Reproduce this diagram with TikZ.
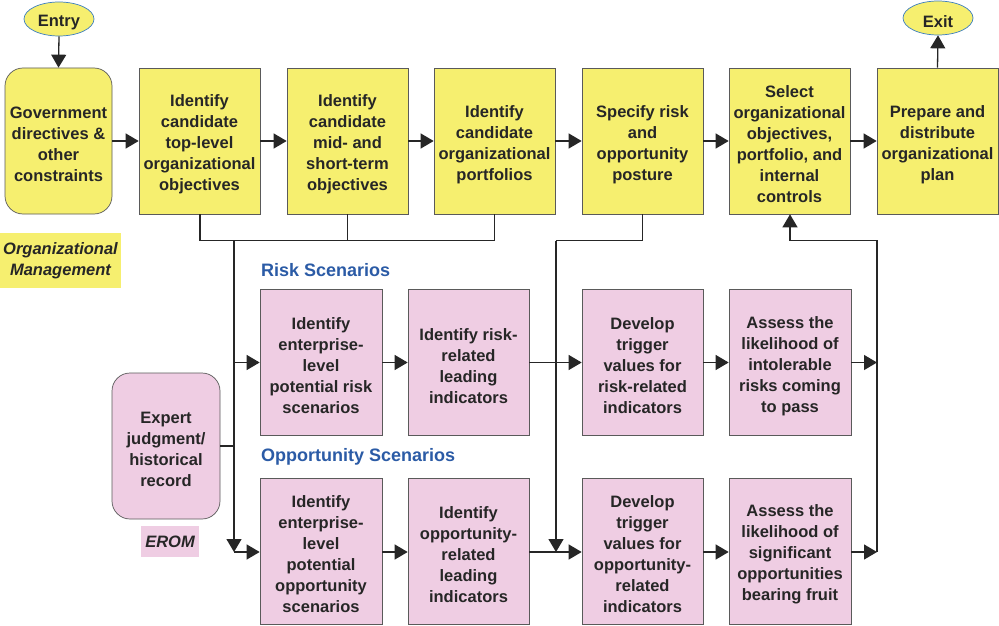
\documentclass[tikz,border=0pt]{standalone}
\usepackage{fontspec}
\setmainfont{Liberation Sans}
\usetikzlibrary{arrows.meta,shapes.geometric}
\definecolor{yel}{HTML}{F6EF6F}
\definecolor{pnk}{HTML}{EFCDE3}
\definecolor{blu}{HTML}{2B5BA6}
\definecolor{ebord}{HTML}{3C7EC0}
\definecolor{bord}{HTML}{5A5A5A}
\newcommand\bx[4]{\node[#1] (#2) at #3 {}; \node[txt] (#2t) at ([yshift=-3.5pt]#2.center) {#4};}
\begin{document}
\begin{tikzpicture}[x=1pt,y=-1pt,
  txt/.style={font=\fontsize{16.5}{21}\selectfont\bfseries, align=center, text=black!85, inner sep=0pt},
  ybox/.style={rectangle, fill=yel, draw=bord, line width=0.7pt, inner sep=0pt, minimum width=121pt, minimum height=146pt},
  pbox/.style={rectangle, fill=pnk, draw=bord, line width=0.7pt, inner sep=0pt, minimum width=121pt, minimum height=146pt},
  term/.style={ellipse, fill=yel, draw=ebord, line width=0.7pt, inner sep=0pt, minimum width=70pt, minimum height=34pt},
  lbl/.style={font=\fontsize{18}{21}\selectfont\bfseries, text=blu, anchor=west, inner sep=0pt},
  tag/.style={font=\fontsize{16.5}{21}\selectfont\bfseries\itshape, align=center, text=black!85, inner sep=0pt},
  ln/.style={line width=1.3pt, draw=black!85},
  arr/.style={ln, -{Triangle[length=13pt,width=15pt]}}
]
\useasboundingbox (0,0) rectangle (999,626);
\fill[white] (0,0) rectangle (999,626);

% top row
\bx{term}{entry}{(59,19)}{Entry}
\bx{term}{exit}{(938,18)}{Exit}
\bx{ybox, rounded corners=18pt, minimum width=107pt}{gov}{(58.5,141)}{Government\\directives \&\\other\\constraints}
\bx{ybox}{b1}{(199.5,141)}{Identify\\candidate\\top-level\\organizational\\objectives}
\bx{ybox}{b2}{(347.5,141)}{Identify\\candidate\\mid- and\\short-term\\objectives}
\bx{ybox}{b3}{(494.5,141)}{Identify\\candidate\\organizational\\portfolios}
\bx{ybox}{b4}{(642.5,141)}{Specify risk\\and\\opportunity\\posture}
\bx{ybox}{b5}{(789.5,141)}{Select\\organizational\\objectives,\\portfolio, and\\internal\\controls}
\bx{ybox}{b6}{(937.5,141)}{Prepare and\\distribute\\organizational\\plan}

% tags
\fill[yel] (0,233) rectangle (121,288);
\node[tag] (orgm) at (60.5,261) {Organizational\\Management};
\fill[pnk] (141,526) rectangle (199,557);
\node[tag] (erom) at (170,542) {EROM};

% labels
\node[lbl] (rs) at (261,270) {Risk Scenarios};
\node[lbl] (os) at (261,457) {Opportunity Scenarios};

% risk row
\bx{pbox, minimum width=122pt}{r1}{(321,362.5)}{Identify\\enterprise-\\level\\potential risk\\scenarios}
\bx{pbox}{r2}{(468.5,362.5)}{Identify risk-\\related\\leading\\indicators}
\bx{pbox}{r3}{(642.5,362.5)}{Develop\\trigger\\values for\\risk-related\\indicators}
\bx{pbox, minimum width=122pt}{r4}{(790,362.5)}{Assess the\\likelihood of\\intolerable\\risks coming\\to pass}

% opportunity row
\bx{pbox, minimum width=122pt}{o1}{(321,551)}{Identify\\enterprise-\\level\\potential\\opportunity\\scenarios}
\bx{pbox}{o2}{(468.5,551)}{Identify\\opportunity-\\related\\leading\\indicators}
\bx{pbox}{o3}{(642.5,551)}{Develop\\trigger\\values for\\opportunity-\\related\\indicators}
\bx{pbox, minimum width=122pt}{o4}{(790,551)}{Assess the\\likelihood of\\significant\\opportunities\\bearing fruit}

% expert
\bx{pbox, rounded corners=18pt, minimum width=108pt}{exp}{(166,446)}{Expert\\judgment/\\historical\\record}

% coordinates
\coordinate (m1) at (200,240.5);
\coordinate (m2) at (347.5,240.5);
\coordinate (m3) at (494.5,240.5);
\coordinate (j) at (234,240.5);
\coordinate (jr) at (234,362.5);
\coordinate (je) at (234,446);
\coordinate (jo) at (234,552);
\coordinate (k1) at (642.5,240.5);
\coordinate (k2) at (556,240.5);
\coordinate (k3) at (556,552);
\coordinate (q1) at (877,362.5);
\coordinate (q2) at (877,552);
\coordinate (q3) at (877,240.5);
\coordinate (q4) at (790,240.5);

% top connectors
\draw[arr] (entry.south) -- (gov.north);
\draw[arr] (gov.east) -- (b1.west);
\draw[arr] (b1.east) -- (b2.west);
\draw[arr] (b2.east) -- (b3.west);
\draw[arr] (b3.east) -- (b4.west);
\draw[arr] (b4.east) -- (b5.west);
\draw[arr] (b5.east) -- (b6.west);
\draw[arr] (b6.north) -- (exit.south);

% merge of top boxes
\draw[ln] (b1.south -| m1) -- (m1) -- (m3) -- (b3.south -| m3);
\draw[ln] (b2.south -| m2) -- (m2);
\draw[arr] (j) -- (jo);
\draw[arr] (jr) -- (r1.west);
\draw[arr] (jo) -- (o1.west |- jo);
\draw[ln] (exp.east) -- (je);

% posture line
\draw[ln] (b4.south -| k1) -- (k1) -- (k2);
\draw[arr] (k2) -- (k3);

% row connectors
\draw[arr] (r1.east) -- (r2.west);
\draw[arr] (r2.east) -- (r3.west);
\draw[arr] (r3.east) -- (r4.west);
\draw[arr] (r4.east) -- (q1);
\draw[arr] (o1.east |- jo) -- (o2.west |- jo);
\draw[arr] (o2.east |- jo) -- (o3.west |- jo);
\draw[arr] (o3.east |- jo) -- (o4.west |- jo);
\draw[arr] (o4.east |- jo) -- (q2);

% feedback to select
\draw[ln] (q2) -- (q3) -- (q4);
\draw[arr] (q4) -- (b5.south -| q4);
\end{tikzpicture}
\end{document}
